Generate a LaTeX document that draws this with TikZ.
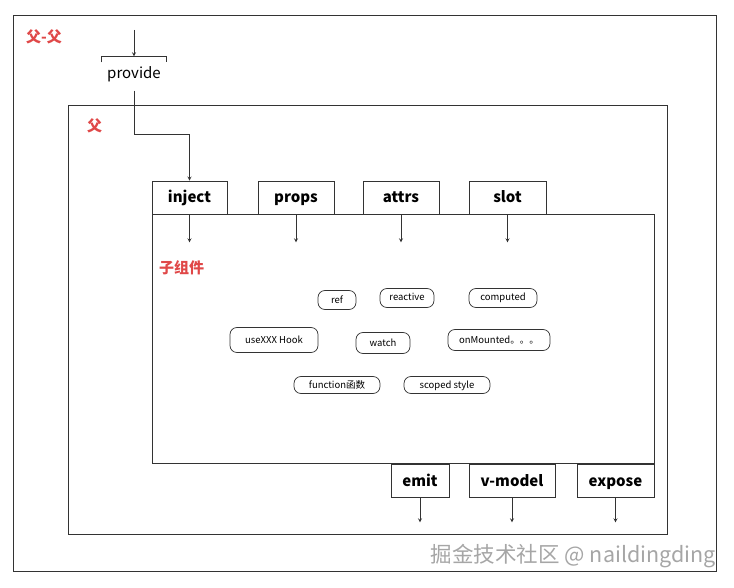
\documentclass[tikz,border=0pt]{standalone}
\usepackage{fontspec}
\setmainfont{Noto Sans CJK SC}
\usepackage{tikz}
\usetikzlibrary{arrows, positioning, calc}
\definecolor{linegray}{HTML}{333333}
\definecolor{labelred}{HTML}{E04848}

\begin{document}
\begin{tikzpicture}[
    x=1pt, y=-1pt,
    >=stealth,
    frame/.style={rectangle, draw=linegray, line width=0.8pt, inner sep=0pt},
    tab/.style={rectangle, draw=linegray, fill=white, line width=0.8pt, minimum height=33pt, inner sep=0pt, text height=12pt, text depth=1pt, font=\fontsize{15}{18}\selectfont\bfseries},
    tag/.style={font=\fontsize{15}{18}\selectfont\bfseries, text=labelred, inner sep=0pt},
    pill/.style={rectangle, draw=linegray, line width=0.7pt, rounded corners=7pt, minimum height=19pt, inner sep=0pt, text height=7pt, text depth=1pt, font=\fontsize{9.5}{11}\selectfont},
    flow/.style={->, line width=0.8pt, linegray}
]
    \useasboundingbox[fill=white] (0,0) rectangle (734,588);

    % frames
    \node (pp) [frame, minimum width=703pt, minimum height=556pt] at (364.5,293) {};
    \node (p) [frame, minimum width=599pt, minimum height=429pt] at (367.5,319.5) {};
    \node (child) [frame, minimum width=502pt, minimum height=249pt] at (403,338.5) {};
    \node (ppname) [tag, anchor=west] at (26,37) {父-父};
    \node (pname) [tag, anchor=west] at (87,126) {父};
    \node (cname) [tag, anchor=west] at (159,268) {子组件};

    % provide
    \node (provide) [minimum width=64pt, minimum height=34pt, inner sep=0pt, text height=11pt, text depth=1pt, font=\fontsize{15}{18}\selectfont] at (134,73.5) {provide};
    \draw[linegray, line width=0.8pt] ([yshift=-6pt]provide.north west) -- (provide.north west) -- (provide.north east) -- ([yshift=-6pt]provide.north east);
    \coordinate (src) at (134,30);
    \draw[flow] (src) -- (provide.north);

    % input tabs
    \node (inject) [tab, minimum width=75pt] at (189.5,197.5) {inject};
    \node (props) [tab, minimum width=76pt] at (296,197.5) {props};
    \node (attrs) [tab, minimum width=76pt] at (401,197.5) {attrs};
    \node (slot) [tab, minimum width=77pt] at (507.5,197.5) {slot};
    \draw[flow] (provide.south) -- ++(0,44) -| (inject.north);

    \foreach \t in {inject, props, attrs, slot} {
        \coordinate (\t-in) at ($(\t.south)+(0,28)$);
        \draw[flow] (\t.south) -- (\t-in);
    }

    % inside the child
    \node (ref) [pill, minimum width=38pt] at (337,300) {ref};
    \node (reactive) [pill, minimum width=54pt] at (407,298) {reactive};
    \node (computed) [pill, minimum width=68pt] at (503,298) {computed};
    \node (hook) [pill, minimum width=88pt, minimum height=25pt] at (274,340) {useXXX Hook};
    \node (watch) [pill, minimum width=54pt, minimum height=21pt] at (383,343) {watch};
    \node (mounted) [pill, minimum width=102pt, minimum height=21pt] at (499,340) {onMounted。。。};
    \node (func) [pill, minimum width=86pt, minimum height=17pt] at (337,385) {function函数};
    \node (scoped) [pill, minimum width=86pt, minimum height=17pt] at (447,385) {scoped style};

    % output tabs
    \node (emit) [tab, minimum width=58pt] at (420,480.5) {emit};
    \node (vmodel) [tab, minimum width=86pt] at (512,480.5) {v-model};
    \node (expose) [tab, minimum width=77pt] at (615.5,480.5) {expose};

    \foreach \t in {emit, vmodel, expose} {
        \coordinate (\t-out) at ($(\t.south)+(0,25)$);
        \draw[flow] (\t.south) -- (\t-out);
    }

    \node (mark) [anchor=east, inner sep=0pt, text=gray!70, font=\fontsize{21.5}{24}\selectfont] at (716,556) {掘金技术社区 @ naildingding};
\end{tikzpicture}
\end{document}
